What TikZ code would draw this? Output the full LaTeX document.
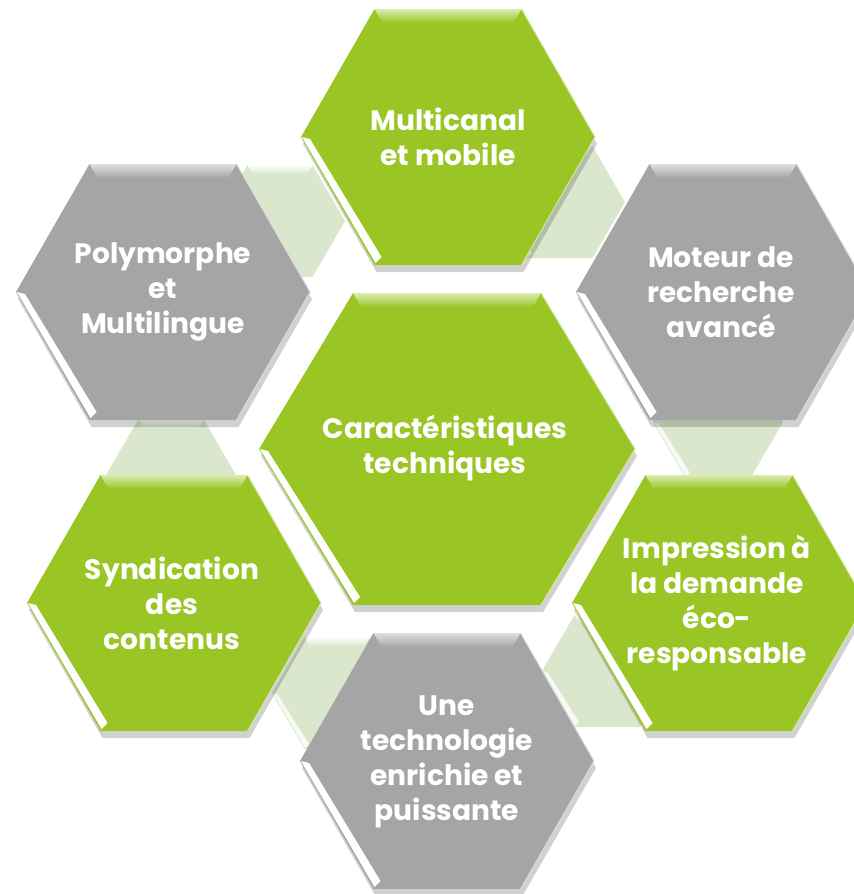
\documentclass[tikz,border=0pt]{standalone}
\usepackage{fontspec}
\setmainfont{Poppins}
\usepackage{tikz}
\usetikzlibrary{positioning}
\definecolor{hxgreen}{RGB}{153,198,36}
\definecolor{hxgray}{RGB}{165,165,165}
\definecolor{hxlink}{RGB}{218,231,204}
\tikzstyle{hextext} = [text=white, font=\bfseries\fontsize{24}{30}\selectfont, align=center, inner sep=0pt]
% flat-topped hexagon: centre x, centre y, half width, half height
\newcommand{\hexpath}[4]{({#1-#3},#2) -- ({#1-#3/2},{#2-#4}) -- ({#1+#3/2},{#2-#4}) -- ({#1+#3},#2) -- ({#1+#3/2},{#2+#4}) -- ({#1-#3/2},{#2+#4}) -- cycle}
\newcommand{\drawhex}[5]{%
  \begin{scope}[shift={(2,7)}]
    \fill[black, opacity=0.18] \hexpath{#1}{#2}{#3}{#4};
  \end{scope}
  \fill[#5] \hexpath{#1}{#2}{#3}{#4};
  \shade[top color=#5!35!white, bottom color=#5] ({#1-#3/2},{#2-#4}) -- ({#1+#3/2},{#2-#4}) -- ({#1+#3/2-8},{#2-#4+14}) -- ({#1-#3/2+8},{#2-#4+14}) -- cycle;
  \fill[white] ({#1-#3+1},#2) -- ({#1-#3/2+1},{#2+#4-2}) -- ({#1-#3/2+7},{#2+#4-8}) -- ({#1-#3+9},{#2+2}) -- cycle;
  \draw[#5!40!white, line width=0.8pt] ({#1+#3/2},{#2-#4}) -- ({#1+#3},#2) -- ({#1+#3/2},{#2+#4});
}
\newcommand{\drawlink}[2]{%
  \fill[hxlink] \hexpath{#1}{#2}{65}{56};
  \shade[top color=white, bottom color=hxlink] ({#1-32.5},{#2-56}) -- ({#1+32.5},{#2-56}) -- ({#1+27},{#2-47}) -- ({#1-27},{#2-47}) -- cycle;
  \fill[white, opacity=0.8] ({#1-64},#2) -- ({#1-32},{#2+55}) -- ({#1-28},{#2+51}) -- ({#1-59},{#2+2}) -- cycle;
}

\begin{document}
\begin{tikzpicture}[x=0.3mm, y=-0.3mm]
\useasboundingbox (0,0) rectangle (854,894);
\clip (0,0) rectangle (854,894);

% links between the outer hexagons
\drawlink{280}{221}
\drawlink{560}{202}
\drawlink{171}{475}
\drawlink{718}{422}
\drawlink{337}{693}
\drawlink{607}{671}

% outer ring
\drawhex{448}{137}{147}{128}{hxgreen}
\drawhex{163}{292}{147}{128}{hxgray}
\drawhex{723}{292}{147}{128}{hxgray}
\drawhex{174}{603}{147}{128}{hxgreen}
\drawhex{719}{603}{147}{128}{hxgreen}
\drawhex{447}{761}{147}{128}{hxgray}

% centre
\drawhex{447}{449}{188}{156}{hxgreen}

\node[hextext] (multi) at (448,137) {Multicanal\\et mobile};
\node[hextext] (poly) at (163,292) {Polymorphe\\et\\Multilingue};
\node[hextext] (moteur) at (721,292) {Moteur de\\recherche\\avancé};
\node[hextext] (carac) at (445,448) {Caractéristiques\\techniques};
\node[hextext] (synd) at (172,603) {Syndication\\des\\contenus};
\node[hextext] (impr) at (717,603) {Impression à\\la demande\\éco-\\responsable};
\node[hextext] (techno) at (447,762) {Une\\technologie\\enrichie et\\puissante};
\end{tikzpicture}
\end{document}
